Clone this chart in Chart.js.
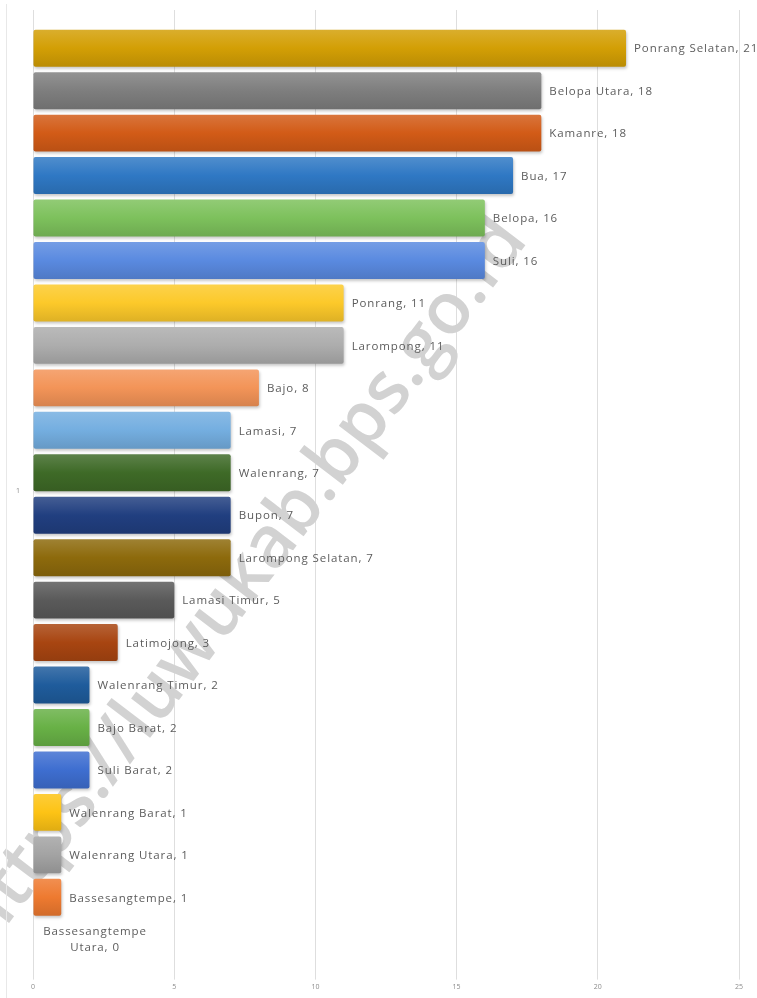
<!DOCTYPE html>
<html>
<head>
<meta charset="utf-8">
<script src="https://cdn.jsdelivr.net/npm/chart.js@4/dist/chart.umd.min.js"></script>
<style>
  html, body { margin: 0; padding: 0; background: #ffffff; }
  #wrap { width: 757px; height: 998px; position: relative; }
</style>
</head>
<body>
<div id="wrap"><canvas id="c"></canvas></div>
<script>
// Kecamatan names, top to bottom
const kecamatan = [
  'Ponrang Selatan', 'Belopa Utara', 'Kamanre', 'Bua', 'Belopa', 'Suli',
  'Ponrang', 'Larompong', 'Bajo', 'Lamasi', 'Walenrang', 'Bupon',
  'Larompong Selatan', 'Lamasi Timur', 'Latimojong', 'Walenrang Timur',
  'Bajo Barat', 'Suli Barat', 'Walenrang Barat', 'Walenrang Utara',
  'Bassesangtempe', 'Bassesangtempe Utara'
];
// Count per kecamatan
const jumlah = [21, 18, 18, 17, 16, 16, 11, 11, 8, 7, 7, 7, 7, 5, 3, 2, 2, 2, 1, 1, 1, 0];
// Bar base colours
const warna = [
  '#D39F05', '#7E7E7E', '#D25B17', '#2F78C4', '#7DC15C', '#5A8AE0',
  '#FCC92A', '#ADADAD', '#F39458', '#74AEE0', '#3E6A27', '#213F80',
  '#8D6A0C', '#5A5A5A', '#A84511', '#1F5C9C', '#68B146', '#3E6ED0',
  '#FDC315', '#A3A3A3', '#EE7A30', '#7E9FD8'
];
// Value axis ticks
const xTicks = [0, 5, 10, 15, 20, 25];
// Single category label shown on the left
const kategori = '1';
const watermark = 'https://luwukab.bps.go.id';

function shade(hex, amt) {
  const n = parseInt(hex.slice(1), 16);
  let r = (n >> 16) & 255, g = (n >> 8) & 255, b = n & 255;
  const f = c => amt >= 0 ? Math.round(c + (255 - c) * amt) : Math.round(c * (1 + amt));
  return `rgb(${f(r)},${f(g)},${f(b)})`;
}

const BAR_PCT = 0.87;

const labelPlugin = {
  id: 'barLabels',
  beforeDatasetsDraw(chart) {
    const ctx = chart.ctx;
    // watermark behind the bars
    ctx.save();
    ctx.translate(243, 582);
    ctx.rotate(-52.7 * Math.PI / 180);
    let size = 50;
    ctx.font = `600 ${size}px "Open Sans", sans-serif`;
    const w = ctx.measureText(watermark).width;
    size = size * 890 / w;
    ctx.font = `600 ${size}px "Open Sans", sans-serif`;
    ctx.textAlign = 'center';
    ctx.textBaseline = 'middle';
    ctx.fillStyle = '#d2d2d2';
    ctx.fillText(watermark, 0, 0);
    ctx.restore();
    // soft drop shadow under bars
    ctx.save();
    ctx.shadowColor = 'rgba(0,0,0,0.22)';
    ctx.shadowBlur = 3;
    ctx.shadowOffsetX = 1;
    ctx.shadowOffsetY = 2;
  },
  afterDatasetsDraw(chart) {
    const ctx = chart.ctx;
    ctx.restore();
    const meta = chart.getDatasetMeta(0);
    ctx.save();
    ctx.font = '11.5px "Open Sans", sans-serif';
    ctx.fillStyle = '#5c5c5c';
    ctx.letterSpacing = '0.9px';
    meta.data.forEach((bar, i) => {
      const text = kecamatan[i] + ', ' + jumlah[i];
      if (jumlah[i] === 0) {
        const cut = kecamatan[i].lastIndexOf(' ');
        const lines = [kecamatan[i].slice(0, cut), kecamatan[i].slice(cut + 1) + ', ' + jumlah[i]];
        ctx.textAlign = 'center';
        ctx.textBaseline = 'middle';
        ctx.fillText(lines[0], bar.x + 62, bar.y - 8);
        ctx.fillText(lines[1], bar.x + 62, bar.y + 8);
      } else {
        ctx.textAlign = 'left';
        ctx.textBaseline = 'middle';
        ctx.fillText(text, bar.x + 8, bar.y + 1);
      }
    });
    ctx.restore();
  },
  afterDraw(chart) {
    const ctx = chart.ctx;
    const area = chart.chartArea;
    ctx.save();
    // frame line on the left
    ctx.strokeStyle = '#e8e8e8';
    ctx.lineWidth = 1;
    ctx.beginPath();
    ctx.moveTo(6.5, 4);
    ctx.lineTo(6.5, 998);
    ctx.stroke();
    // category label
    ctx.font = '7px "Open Sans", sans-serif';
    ctx.fillStyle = '#8a8a8a';
    ctx.textAlign = 'center';
    ctx.textBaseline = 'middle';
    ctx.fillText(kategori, 18, (area.top + area.bottom) / 2);
    ctx.restore();
  }
};

new Chart(document.getElementById('c'), {
  type: 'bar',
  data: {
    datasets: [{
      data: jumlah.map((v, i) => ({ x: v, y: i })),
      backgroundColor(c) {
        const base = warna[c.dataIndex] || '#888888';
        const chart = c.chart;
        if (c.type !== 'data' || !chart.chartArea || !chart.scales.y) return base;
        const ys = chart.scales.y;
        const yc = ys.getPixelForValue(c.dataIndex);
        const half = Math.abs(ys.getPixelForValue(1) - ys.getPixelForValue(0)) * BAR_PCT / 2;
        const g = chart.ctx.createLinearGradient(0, yc - half, 0, yc + half);
        g.addColorStop(0, shade(base, 0.16));
        g.addColorStop(0.5, base);
        g.addColorStop(1, shade(base, -0.12));
        return g;
      },
      borderWidth: 0,
      borderRadius: 2,
      borderSkipped: false,
      barPercentage: BAR_PCT,
      categoryPercentage: 1
    }]
  },
  options: {
    indexAxis: 'y',
    responsive: true,
    maintainAspectRatio: false,
    animation: false,
    devicePixelRatio: 1,
    layout: { padding: { left: 33, right: 18, top: 10, bottom: 4 } },
    plugins: { legend: { display: false }, tooltip: { enabled: false } },
    scales: {
      x: {
        type: 'linear',
        position: 'bottom',
        min: xTicks[0],
        max: xTicks[xTicks.length - 1],
        afterBuildTicks(scale) { scale.ticks = xTicks.map(v => ({ value: v })); },
        ticks: { font: { size: 7, family: '"Open Sans", sans-serif' }, color: '#8c8c8c', padding: 3 },
        grid: { color: '#dedede', lineWidth: 1, drawTicks: true, tickLength: 8 },
        border: { display: false }
      },
      y: {
        type: 'linear',
        reverse: true,
        offset: false,
        min: -0.9,
        max: 21.75,
        display: false,
        ticks: { stepSize: 1, includeBounds: false }
      }
    }
  },
  plugins: [labelPlugin]
});
</script>
</body>
</html>
